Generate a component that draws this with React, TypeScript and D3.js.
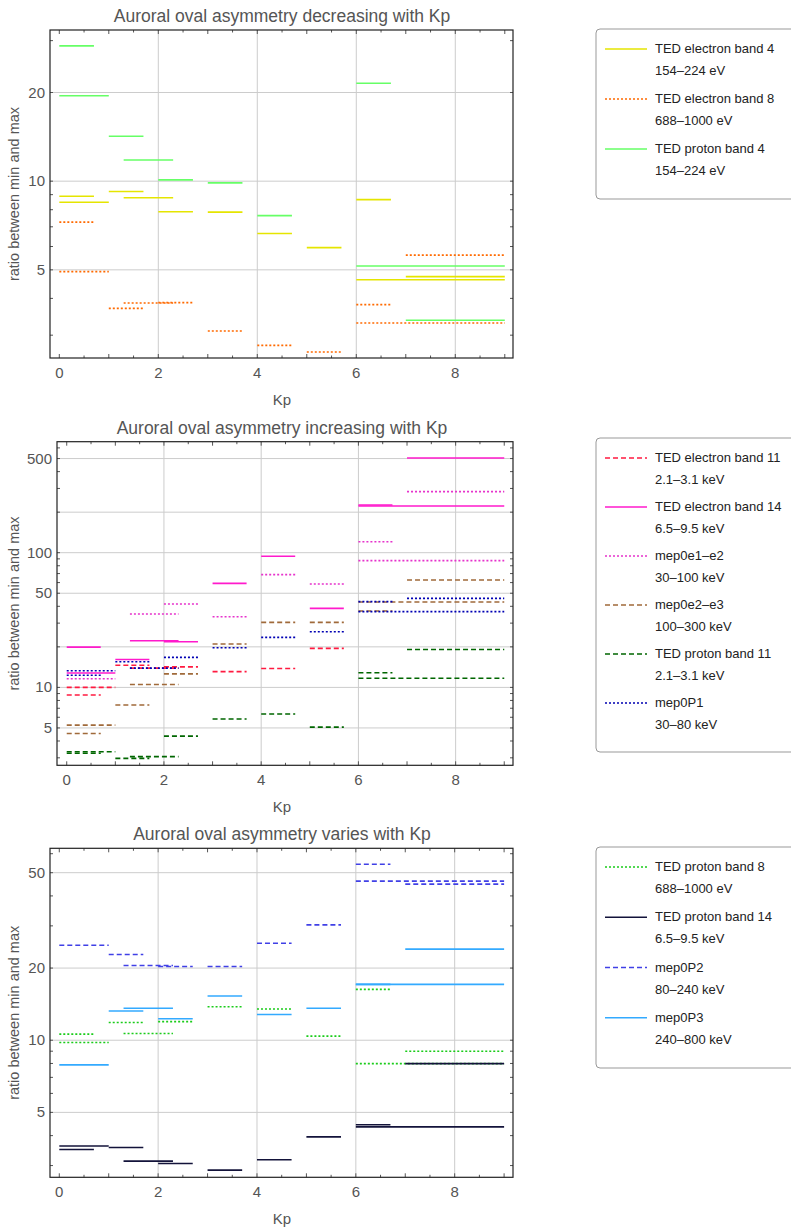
import * as d3 from 'd3';

type Seg = [number, number, number]; // x0, x1, value

// ---- panel 1: decreasing with Kp
const tedE4: Seg[] = [[0, 0.7, 8.89], [0, 1, 8.48], [1, 1.7, 9.22], [1.3, 2.3, 8.78], [2, 2.7, 7.87], [3, 3.7, 7.85], [4, 4.7, 6.64], [5, 5.7, 5.95], [6, 6.7, 8.66], [6, 9, 4.63], [7, 9, 4.74]];
const tedE8: Seg[] = [[0, 0.7, 7.26], [0, 1, 4.93], [1, 1.7, 3.7], [1.3, 2.3, 3.86], [2, 2.7, 3.87], [3, 3.7, 3.1], [4, 4.7, 2.77], [5, 5.7, 2.63], [6, 6.7, 3.81], [6, 9, 3.3], [7, 9, 5.61]];
const tedP4: Seg[] = [[0, 0.7, 28.8], [0, 1, 19.5], [1, 1.7, 14.2], [1.3, 2.3, 11.8], [2, 2.7, 10.1], [3, 3.7, 9.87], [4, 4.7, 7.64], [6, 6.7, 21.5], [6, 9, 5.15], [7, 9, 3.37]];

// ---- panel 2: increasing with Kp
const tedE11: Seg[] = [[0, 1, 10], [0, 0.7, 8.77], [1, 1.7, 14.6], [1.3, 2.3, 13.9], [2, 2.7, 14.2], [3, 3.7, 13.1], [4, 4.7, 13.8], [5, 5.7, 19.5]];
const tedE14: Seg[] = [[0, 0.7, 19.9], [0, 1, 12.8], [1, 1.7, 16.1], [1.3, 2.3, 22.2], [2, 2.7, 21.8], [3, 3.7, 59.2], [4, 4.7, 94], [5, 5.7, 38.6], [6, 6.7, 226], [6, 9, 222], [7, 9, 505]];
const mepE12: Seg[] = [[0, 1, 11.6], [1.3, 2.3, 35.1], [2, 2.7, 41.6], [3, 3.7, 33.5], [4, 4.7, 68.7], [5, 5.7, 58.5], [6, 6.7, 120.7], [6, 9, 87.3], [7, 9, 284]];
const mepE23: Seg[] = [[0, 1, 5.25], [0, 0.7, 4.55], [1, 1.7, 7.4], [1.3, 2.3, 10.5], [2, 2.7, 12.6], [3, 3.7, 21], [4, 4.7, 30.4], [5, 5.7, 30.4], [6, 6.7, 36.9], [6, 9, 43], [7, 9, 62.7]];
const tedP11: Seg[] = [[0, 0.7, 3.24], [0, 1, 3.33], [1, 1.7, 2.97], [1.3, 2.3, 3.06], [2, 2.7, 4.35], [3, 3.7, 5.82], [4, 4.7, 6.34], [5, 5.7, 5.07], [6, 6.7, 12.85], [6, 9, 11.7], [7, 9, 19.1]];
const mepP1: Seg[] = [[0, 1, 13.3], [0, 0.7, 12.3], [1, 1.7, 15.5], [1.3, 2.3, 13.9], [2, 2.7, 16.7], [3, 3.7, 19.7], [4, 4.7, 23.5], [5, 5.7, 25.9], [6, 6.7, 43.3], [6, 9, 36.5], [7, 9, 45.8]];

// ---- panel 3: varies with Kp
const tedP8: Seg[] = [[0, 0.7, 10.6], [0, 1, 9.78], [1, 1.7, 11.85], [1.3, 2.3, 10.66], [2, 2.7, 11.96], [3, 3.7, 13.8], [4, 4.7, 13.5], [5, 5.7, 10.4], [6, 6.7, 16.3], [6, 9, 7.99], [7, 9, 9.0]];
const tedP14: Seg[] = [[0, 1, 3.62], [0, 0.7, 3.5], [1, 1.7, 3.57], [1.3, 2.3, 3.13], [2, 2.7, 3.06], [3, 3.7, 2.87], [4, 4.7, 3.17], [5, 5.7, 3.95], [6, 6.7, 4.44], [6, 9, 4.35], [7, 9, 7.99]];
const mepP2: Seg[] = [[0, 1, 24.9], [1, 1.7, 22.8], [1.3, 2.3, 20.5], [2, 2.7, 20.3], [3, 3.7, 20.3], [4, 4.7, 25.4], [5, 5.7, 30.3], [6, 6.7, 54.2], [6, 9, 46.1], [7, 9, 44.8]];
const mepP3: Seg[] = [[0, 1, 7.89], [1, 1.7, 13.25], [1.3, 2.3, 13.6], [2, 2.7, 12.3], [3, 3.7, 15.3], [4, 4.7, 12.8], [5, 5.7, 13.6], [6, 6.7, 17.1], [6, 9, 17.1], [7, 9, 24.0]];

const xTicks = [0, 2, 4, 6, 8];

interface Series { name: string; range: string; color: string; dash: string; data: Seg[] }
interface PanelDef {
  title: string; top: number; bottom: number; left: number; xDomain: [number, number]; yDomain: [number, number];
  yLabels: number[]; yGrid: number[]; legendTop: number; legendBottom: number; series: Series[];
}

const DOT = '2,2';
const DASH = '5,3';

const panels: PanelDef[] = [
  {
    title: 'Auroral oval asymmetry decreasing with Kp', top: 30, bottom: 358, left: 50, xDomain: [-0.188, 9.166], yDomain: [2.51, 32.6],
    yLabels: [5, 10, 20], yGrid: [5, 10, 20], legendTop: 29, legendBottom: 199,
    series: [
      { name: 'TED electron band 4', range: '154–224 eV', color: '#e5e500', dash: '', data: tedE4 },
      { name: 'TED electron band 8', range: '688–1000 eV', color: '#ff6a00', dash: DOT, data: tedE8 },
      { name: 'TED proton band 4', range: '154–224 eV', color: '#66ff66', dash: '', data: tedP4 },
    ],
  },
  {
    title: 'Auroral oval asymmetry increasing with Kp', top: 441.7, bottom: 765.3, left: 57, xDomain: [-0.2, 9.18], yDomain: [2.64, 667],
    yLabels: [5, 10, 50, 100, 500], yGrid: [5, 10, 20, 50, 100, 200, 500], legendTop: 438, legendBottom: 752,
    series: [
      { name: 'TED electron band 11', range: '2.1–3.1 keV', color: '#ff1a40', dash: DASH, data: tedE11 },
      { name: 'TED electron band 14', range: '6.5–9.5 keV', color: '#ff1acc', dash: '', data: tedE14 },
      { name: 'mep0e1–e2', range: '30–100 keV', color: '#e633cc', dash: DOT, data: mepE12 },
      { name: 'mep0e2–e3', range: '100–300 keV', color: '#a06a3a', dash: DASH, data: mepE23 },
      { name: 'TED proton band 11', range: '2.1–3.1 keV', color: '#006600', dash: DASH, data: tedP11 },
      { name: 'mep0P1', range: '30–80 keV', color: '#0000b3', dash: DOT, data: mepP1 },
    ],
  },
  {
    title: 'Auroral oval asymmetry varies with Kp', top: 848.3, bottom: 1177.3, left: 50, xDomain: [-0.188, 9.18], yDomain: [2.68, 63.2],
    yLabels: [5, 10, 20, 50], yGrid: [5, 10, 20, 50], legendTop: 847, legendBottom: 1068,
    series: [
      { name: 'TED proton band 8', range: '688–1000 eV', color: '#1acc1a', dash: DOT, data: tedP8 },
      { name: 'TED proton band 14', range: '6.5–9.5 keV', color: '#13133a', dash: '', data: tedP14 },
      { name: 'mep0P2', range: '80–240 keV', color: '#4040e6', dash: DASH, data: mepP2 },
      { name: 'mep0P3', range: '240–800 keV', color: '#33aaff', dash: '', data: mepP3 },
    ],
  },
];

const FONT = '"Liberation Sans", Arial, sans-serif';
const GRAY = '#555';

function Panel({ p }: { p: PanelDef }) {
  const left = p.left, right = 513;
  const x = d3.scaleLinear().domain(p.xDomain).range([left, right]);
  const y = d3.scaleLog().domain(p.yDomain).range([p.bottom, p.top]);
  const minorX = d3.range(0, 9.01, 0.5);
  const minorY = y.ticks(20).filter(v => v >= p.yDomain[0] && v <= p.yDomain[1]);
  const legendRow = (p.legendBottom - p.legendTop - 20) / p.series.length;
  return (
    <g>
      <text x={282} y={p.top - 8} textAnchor="middle" fontSize={17.5} fill={GRAY}>{p.title}</text>
      {xTicks.filter(t => t > 0).map(t => (
        <line key={'gx' + t} x1={x(t)} x2={x(t)} y1={p.top} y2={p.bottom} stroke="#ccc" />
      ))}
      {p.yGrid.map(v => (
        <line key={'gy' + v} x1={left} x2={right} y1={y(v)} y2={y(v)} stroke="#ccc" />
      ))}
      {minorX.map(t => (
        <g key={'mx' + t}>
          <line x1={x(t)} x2={x(t)} y1={p.bottom} y2={p.bottom - (t % 1 === 0 ? 4 : 2.5)} stroke={GRAY} />
          <line x1={x(t)} x2={x(t)} y1={p.top} y2={p.top + (t % 1 === 0 ? 4 : 2.5)} stroke={GRAY} />
        </g>
      ))}
      {minorY.map(v => (
        <g key={'my' + v}>
          <line x1={left} x2={left + 3} y1={y(v)} y2={y(v)} stroke={GRAY} />
          <line x1={right} x2={right - 3} y1={y(v)} y2={y(v)} stroke={GRAY} />
        </g>
      ))}
      {p.series.map(s => s.data.map((d, i) => (
        <line key={s.name + i} x1={x(d[0])} x2={x(d[1])} y1={y(d[2])} y2={y(d[2])}
          stroke={s.color} strokeWidth={1.6} strokeDasharray={s.dash || undefined} />
      )))}
      <rect x={left} y={p.top} width={right - left} height={p.bottom - p.top} fill="none" stroke="#222" strokeWidth={1.2} />
      {xTicks.map(t => (
        <text key={'xl' + t} x={x(t)} y={p.bottom + 20} textAnchor="middle" fontSize={15} fill={GRAY}>{t}</text>
      ))}
      {p.yLabels.map(v => (
        <text key={'yl' + v} x={left - 5} y={y(v) + 5} textAnchor="end" fontSize={15} fill={GRAY}>{v}</text>
      ))}
      <text x={282} y={p.bottom + 47} textAnchor="middle" fontSize={15} fill={GRAY}>Kp</text>
      <text transform={`translate(19,${(p.top + p.bottom) / 2}) rotate(-90)`} textAnchor="middle" fontSize={14.5} fill={GRAY}>ratio between min and max</text>
      <rect x={596} y={p.legendTop} width={200} height={p.legendBottom - p.legendTop} rx={4} fill="white" stroke="#999" />
      {p.series.map((s, i) => {
        const ly = p.legendTop + 20 + i * legendRow;
        return (
          <g key={'lg' + s.name}>
            <line x1={605} x2={647} y1={ly} y2={ly} stroke={s.color} strokeWidth={1.6} strokeDasharray={s.dash || undefined} />
            <text x={655} y={ly + 4} fontSize={13} fill="#222">{s.name}</text>
            <text x={655} y={ly + 26} fontSize={13} fill="#222">{s.range}</text>
          </g>
        );
      })}
    </g>
  );
}

export default function App() {
  return (
    <svg width={791} height={1232} style={{ position: 'absolute', left: 0, top: 0, fontFamily: FONT }}>
      <rect width={791} height={1232} fill="white" />
      {panels.map(p => <Panel key={p.title} p={p} />)}
    </svg>
  );
}
